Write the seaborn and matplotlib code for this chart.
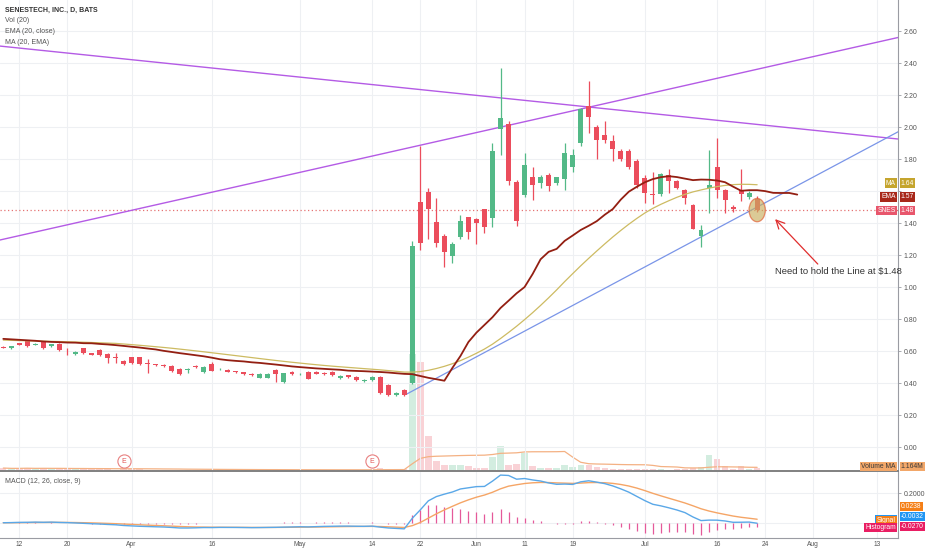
import numpy as np
import pandas as pd
import matplotlib
matplotlib.use("Agg")
import matplotlib.pyplot as plt
import matplotlib.transforms as mtrans
from matplotlib.patches import Ellipse
import seaborn as sns

# ---------------- data ----------------
first_session = "2018-03-08"
holidays = ["2018-03-30", "2018-05-28", "2018-07-04"]

opens = [0.627, 0.617, 0.648, 0.665, 0.640, 0.656, 0.629, 0.644, 0.613, 0.579,
         0.617, 0.585, 0.606, 0.581, 0.559, 0.537, 0.560, 0.560, 0.521, 0.517,
         0.513, 0.506, 0.490, 0.481, 0.506, 0.469, 0.519, 0.486, 0.481, 0.473,
         0.467, 0.456, 0.433, 0.433, 0.481, 0.404, 0.469, 0.454, 0.469, 0.469,
         0.463, 0.469, 0.429, 0.448, 0.438, 0.410, 0.419, 0.440, 0.387, 0.323,
         0.356, 0.400, 1.533, 1.596, 1.404, 1.319, 1.196, 1.315, 1.435, 1.427,
         1.485, 1.433, 1.990, 2.020, 1.656, 1.573, 1.685, 1.650, 1.700, 1.650,
         1.673, 1.752, 1.898, 2.130, 2.000, 1.950, 1.910, 1.850, 1.850, 1.790,
         1.683, 1.582, 1.581, 1.700, 1.660, 1.606, 1.510, 1.319, 1.620, 1.750,
         1.606, 1.500, 1.606, 1.560, 1.550]
highs = [0.630, 0.633, 0.652, 0.668, 0.650, 0.660, 0.647, 0.648, 0.617, 0.600,
         0.620, 0.590, 0.610, 0.590, 0.585, 0.542, 0.565, 0.563, 0.548, 0.521,
         0.517, 0.510, 0.494, 0.492, 0.510, 0.506, 0.530, 0.494, 0.485, 0.477,
         0.471, 0.460, 0.462, 0.462, 0.485, 0.465, 0.473, 0.462, 0.473, 0.473,
         0.467, 0.473, 0.450, 0.452, 0.442, 0.423, 0.442, 0.444, 0.392, 0.344,
         0.360, 1.290, 1.880, 1.620, 1.554, 1.330, 1.280, 1.450, 1.440, 1.430,
         1.490, 1.898, 2.370, 2.040, 1.670, 1.840, 1.752, 1.700, 1.710, 1.690,
         1.898, 1.860, 2.120, 2.290, 2.010, 2.040, 1.950, 1.860, 1.860, 1.800,
         1.700, 1.720, 1.710, 1.740, 1.670, 1.610, 1.520, 1.390, 1.856, 1.930,
         1.610, 1.510, 1.740, 1.600, 1.570]
lows = [0.617, 0.615, 0.638, 0.628, 0.636, 0.612, 0.625, 0.600, 0.575, 0.575,
        0.580, 0.573, 0.570, 0.523, 0.523, 0.512, 0.522, 0.512, 0.465, 0.506,
        0.500, 0.472, 0.452, 0.460, 0.494, 0.465, 0.473, 0.482, 0.467, 0.463,
        0.452, 0.444, 0.429, 0.429, 0.408, 0.400, 0.452, 0.450, 0.423, 0.454,
        0.452, 0.444, 0.425, 0.431, 0.415, 0.406, 0.415, 0.331, 0.321, 0.319,
        0.321, 0.395, 1.230, 1.300, 1.252, 1.127, 1.150, 1.300, 1.300, 1.270,
        1.340, 1.377, 1.825, 1.640, 1.380, 1.560, 1.544, 1.620, 1.600, 1.640,
        1.606, 1.720, 1.880, 1.960, 1.800, 1.900, 1.790, 1.790, 1.740, 1.620,
        1.523, 1.520, 1.570, 1.585, 1.610, 1.520, 1.360, 1.250, 1.460, 1.554,
        1.460, 1.470, 1.540, 1.550, 1.470]
closes = [0.619, 0.631, 0.640, 0.631, 0.645, 0.617, 0.644, 0.606, 0.611, 0.596,
          0.585, 0.577, 0.575, 0.558, 0.556, 0.517, 0.527, 0.517, 0.519, 0.510,
          0.504, 0.477, 0.456, 0.485, 0.498, 0.502, 0.477, 0.490, 0.471, 0.467,
          0.456, 0.448, 0.458, 0.458, 0.454, 0.460, 0.456, 0.458, 0.427, 0.458,
          0.456, 0.448, 0.446, 0.435, 0.419, 0.419, 0.438, 0.335, 0.325, 0.340,
          0.325, 1.256, 1.273, 1.490, 1.273, 1.220, 1.270, 1.414, 1.346, 1.400,
          1.373, 1.852, 2.054, 1.660, 1.414, 1.764, 1.640, 1.685, 1.633, 1.685,
          1.835, 1.823, 2.110, 2.065, 1.920, 1.920, 1.865, 1.800, 1.750, 1.635,
          1.585, 1.578, 1.706, 1.660, 1.620, 1.554, 1.365, 1.356, 1.640, 1.606,
          1.544, 1.485, 1.580, 1.590, 1.480]
volume_m = [0.9, 0.7, 0.8, 1.0, 0.6, 0.9, 0.7, 0.8, 0.6, 0.5,
            0.7, 0.5, 0.6, 0.5, 0.4, 0.6, 0.5, 0.6, 0.4, 0.3,
            0.3, 0.4, 0.4, 0.3, 0.3, 0.4, 0.4, 0.3, 0.3, 0.3,
            0.3, 0.3, 0.3, 0.3, 0.4, 0.4, 0.3, 0.3, 0.3, 0.3,
            0.2, 0.3, 0.3, 0.3, 0.3, 0.3, 0.4, 0.9, 0.7, 0.5,
            0.5, 40.0, 37.3, 11.9, 3.4, 1.9, 1.9, 1.9, 1.5, 1.0,
            1.0, 4.8, 8.4, 1.9, 2.2, 6.2, 1.6, 1.0, 0.8, 0.8,
            1.9, 1.4, 2.1, 2.1, 1.4, 0.9, 0.6, 0.5, 0.6, 0.7,
            0.7, 0.5, 0.5, 0.4, 0.5, 0.5, 1.0, 1.2, 5.3, 4.1,
            1.6, 0.6, 1.5, 0.5, 0.9]
# EMA(20) values of the five sessions before the first shown bar
ema_before = [0.676, 0.673, 0.670, 0.667, 0.664]
ema_offset = 5

tick_dates = ["2018-03-12", "2018-03-20", "2018-04-02", "2018-04-16", "2018-05-01",
              "2018-05-14", "2018-05-22", "2018-06-01", "2018-06-11", "2018-06-19",
              "2018-07-02", "2018-07-16", "2018-07-24", "2018-08-01", "2018-08-13"]
tick_labels = ["12", "20", "Apr", "16", "May", "14", "22", "Jun", "11", "19",
               "Jul", "16", "24", "Aug", "13"]
earnings_dates = ["2018-03-29", "2018-05-14"]

# drawn lines (bar index, price)
resist_x, resist_y = [-0.41, 111.6], [2.506, 1.925]
upper_x, upper_y = [-0.41, 111.6], [1.294, 2.560]
support_x, support_y = [50.3, 111.6], [0.331, 1.971]
hold_level = 1.48
price_ticks = [0.0, 0.2, 0.4, 0.6, 0.8, 1.0, 1.2, 1.4, 1.6, 1.8, 2.0, 2.2, 2.4, 2.6]
hidden_tick = 1.6  # covered by the MA / EMA tags in the reference

last_ma, last_ema, last_close = 1.64, 1.57, 1.48
last_volma = 1.164
last_signal, last_macd, last_hist = 0.0238, -0.0032, -0.0270

# ---------------- derived series ----------------
sessions = pd.bdate_range(first_session, "2018-08-31")
sessions = sessions[~sessions.isin(pd.to_datetime(holidays))]
pos = {d: i for i, d in enumerate(sessions)}
tick_pos = [pos[pd.Timestamp(d)] for d in tick_dates]
earn_pos = [pos[pd.Timestamp(d)] for d in earnings_dates]

n = len(closes)
idx = np.arange(n)
o = np.array(opens); h = np.array(highs); l = np.array(lows); c = np.array(closes)
up = c >= o
cs = pd.Series(c)
ema = pd.Series([ema_before[-1]] + closes).ewm(span=20, adjust=False).mean().iloc[1:].to_numpy()
ema_all = np.concatenate([ema_before, ema])
ema_x = np.arange(len(ema_all))  # shifted by ema_offset bars
ma = pd.Series(ema_all).rolling(20, min_periods=1).mean().to_numpy()[ema_offset:]
vol = np.array(volume_m) * 1e6
volma = pd.Series(vol).rolling(20, min_periods=1).mean().to_numpy()
e12 = cs.ewm(span=12, adjust=False).mean()
e26 = cs.ewm(span=26, adjust=False).mean()
macd = (e12 - e26).to_numpy()
signal = pd.Series(macd).ewm(span=9, adjust=False).mean().to_numpy()
hist = macd - signal

# ---------------- styling ----------------
sns.set_theme(style="white")
plt.rcParams["font.family"] = ["Liberation Sans", "DejaVu Sans"]

UP, DOWN = "#53b987", "#eb4d5c"
GRID = "#eef0f3"
W, H = 932, 550
fig = plt.figure(figsize=(W / 100, H / 100), dpi=100)
axr = 898.3 / W
ax = fig.add_axes([0, (H - 470.7) / H, axr, 470.7 / H])
axm = fig.add_axes([0, (H - 537.5) / H, axr, (537.5 - 471.7) / H])
axv = ax.twinx()
ax.set_zorder(3); axv.set_zorder(2); ax.patch.set_visible(False)

xlim = (-0.41, 111.6)
for a in (ax, axm, axv):
    a.set_xlim(*xlim)
ax.set_ylim(-0.148, 2.794)
axm.set_ylim(-0.101, 0.349)
vol_top = 161e6
axv.set_ylim(0, vol_top)

# grid
for a in (ax, axm):
    for tp in tick_pos:
        a.axvline(tp, color=GRID, lw=0.8, zorder=0)
for pt in price_ticks:
    ax.axhline(pt, color=GRID, lw=0.8, zorder=0)
for v in (0.0, 0.2):
    axm.axhline(v, color=GRID, lw=0.8, zorder=0)

# volume
axv.bar(idx, vol, width=0.8, color=np.where(up, UP, DOWN), alpha=0.25, linewidth=0)
sns.lineplot(x=idx, y=volma, ax=axv, color="#f4b183", linewidth=0.9, legend=False)
axv.set_yticks([]); axv.set_ylabel("")
for s in axv.spines.values():
    s.set_visible(False)

# trend lines
sns.lineplot(x=resist_x, y=resist_y, ax=ax, color="#b45be5", linewidth=1.0, legend=False)
sns.lineplot(x=upper_x, y=upper_y, ax=ax, color="#b45be5", linewidth=1.0, legend=False)
sns.lineplot(x=support_x, y=support_y, ax=ax, color="#7a95e8", linewidth=0.9, legend=False)
ax.axhline(hold_level, color="#e57373", lw=0.9, ls=(0, (1, 2)), zorder=1)

# candles
ax.vlines(idx, l, h, colors=np.where(up, UP, DOWN), linewidth=0.9, zorder=4)
body = np.maximum(np.abs(c - o), 0.004)
ax.bar(idx, body, bottom=np.minimum(o, c), width=0.62, color=np.where(up, UP, DOWN),
       linewidth=0, zorder=5)

# moving averages
sns.lineplot(x=idx, y=ma, ax=ax, color="#cdbb62", linewidth=0.9, legend=False, zorder=6)
sns.lineplot(x=ema_x, y=ema_all, ax=ax, color="#931f12", linewidth=1.3, legend=False, zorder=6)

# highlight + note
ax.add_patch(Ellipse((n - 1, 1.481), 2.03, 0.146, facecolor="#c9ae5e", alpha=0.65,
                     edgecolor="#e0582c", lw=0.9, zorder=7))
ax.annotate("", xy=(96.0, 1.437), xytext=(101.8, 1.131),
            arrowprops=dict(arrowstyle="->,head_length=0.5,head_width=0.25",
                            color="#e02d2d", lw=0.9), zorder=8)
ax.text(96.2, 1.094, "Need to hold the Line at $1.48", fontsize=6.8, color="#333333",
        ha="left", va="center", zorder=8)

# earnings markers
tr = mtrans.blended_transform_factory(ax.transData, ax.transAxes)
for ep in earn_pos:
    ax.plot([ep], [0.0206], transform=tr, marker="o", ms=9.5, mfc="white",
            mec="#e88080", mew=0.8, zorder=8, clip_on=False)
    ax.text(ep, 0.0206, "E", transform=tr, fontsize=5, color="#e05555",
            ha="center", va="center", zorder=9)

# MACD panel
axm.vlines(idx, 0, hist, colors="#e5599a", linewidth=0.9)
sns.lineplot(x=idx, y=signal, ax=axm, color="#f5a566", linewidth=1.0, legend=False)
sns.lineplot(x=idx, y=macd, ax=axm, color="#5aa8e8", linewidth=1.0, legend=False)

# axes cosmetics
for a in (ax, axm):
    a.yaxis.tick_right()
    a.spines["top"].set_visible(False)
    a.spines["left"].set_visible(False)
    a.spines["right"].set_color("#9a9ca3")
    a.spines["right"].set_linewidth(0.8)
    a.set_xticks(tick_pos)
    a.set_xlabel(""); a.set_ylabel("")
    a.tick_params(axis="y", which="both", right=True, length=2.5, width=0.6,
                  color="#9a9ca3", labelsize=5, labelcolor="#555555", pad=1.5)
ax.spines["bottom"].set_color("#808080")
ax.spines["bottom"].set_linewidth(1.4)
axm.spines["bottom"].set_color("#9a9ca3")
axm.spines["bottom"].set_linewidth(0.8)
ax.set_yticks(price_ticks)
ax.set_yticklabels(["" if abs(p - hidden_tick) < 1e-9 else f"{p:.2f}" for p in price_ticks])
ax.tick_params(axis="x", bottom=False, labelbottom=False, length=0)
axm.set_yticks([0.2])
axm.set_yticklabels(["0.2000"])
axm.set_xticklabels(tick_labels)
axm.tick_params(axis="x", bottom=False, length=0, labelsize=4.8, labelcolor="#555555", pad=2.2)


def tag(a, yv, name, value, color, yoff=0, name_yoff=None, txt="white", ycoord="data"):
    kw = dict(xycoords=("axes fraction", ycoord), textcoords="offset pixels",
              va="center", fontsize=4.9, annotation_clip=False, zorder=20)
    a.annotate(value, xy=(1, yv), xytext=(2.5, yoff), ha="left", color=txt,
               bbox=dict(boxstyle="square,pad=0.18", fc=color, ec="none"), **kw)
    if name:
        ny = yoff if name_yoff is None else name_yoff
        a.annotate(name, xy=(1, yv), xytext=(-2.5, ny), ha="right", color=txt,
                   bbox=dict(boxstyle="square,pad=0.18", fc=color, ec="none"), **kw)


tag(ax, last_ma, "MA", f"{last_ma:.2f}", "#c5a52e", yoff=1.5)
tag(ax, last_ema, "EMA", f"{last_ema:.2f}", "#a8281a", yoff=-1)
tag(ax, last_close, "SNES", f"{last_close:.2f}", "#e8566c")
tag(ax, last_volma * 1e6 / vol_top, "Volume MA", f"{last_volma:.3f}M", "#f2a769",
    txt="#3a3a3a", ycoord="axes fraction", yoff=1)
tag(axm, last_hist, "MACD", f"{last_macd:.4f}", "#2196f3", yoff=10, name_yoff=7)
tag(axm, last_hist, "Signal", f"{last_signal:.4f}", "#f57f17", yoff=20, name_yoff=6)
tag(axm, last_hist, "Histogram", f"{last_hist:.4f}", "#e91e63", yoff=0, name_yoff=-1)

# legends
fig.text(4.7 / W, 1 - 10.5 / H, "SENESTECH, INC., D, BATS", fontsize=5, color="#333333",
         fontweight="bold", ha="left", va="center")
for k, s in enumerate(["Vol (20)", "EMA (20, close)", "MA (20, EMA)"]):
    fig.text(4.7 / W, 1 - (21 + 10.6 * k) / H, s, fontsize=5, color="#555555",
             ha="left", va="center")
fig.text(4.7 / W, 1 - 481.5 / H, "MACD (12, 26, close, 9)", fontsize=5, color="#555555",
         ha="left", va="center")

fig.savefig("out.png", dpi=100, facecolor="white")
